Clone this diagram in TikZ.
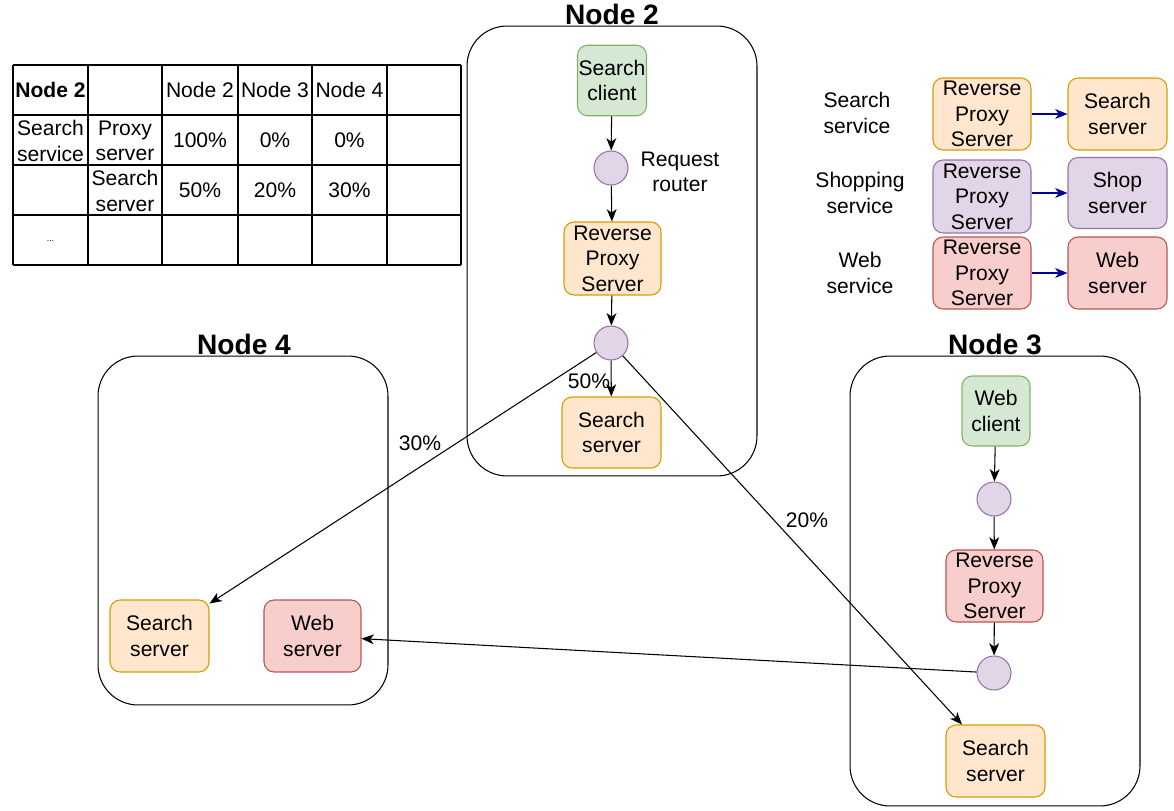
\documentclass[tikz,border=0pt]{standalone}
\usepackage{fontspec}
\setmainfont{Liberation Sans}
\usetikzlibrary{arrows.meta}
\definecolor{orFill}{HTML}{FFE6CC}
\definecolor{orLine}{HTML}{D79B00}
\definecolor{grFill}{HTML}{D5E8D4}
\definecolor{grLine}{HTML}{82B366}
\definecolor{puFill}{HTML}{E1D5E7}
\definecolor{puLine}{HTML}{9673A6}
\definecolor{reFill}{HTML}{F8CECC}
\definecolor{reLine}{HTML}{B85450}
\definecolor{legBlue}{RGB}{0,0,153}

\begin{document}
\begin{tikzpicture}[
x=0.02cm, y=-0.02cm,
font=\fontsize{12}{14.5}\selectfont,
line width=0.6pt,
box/.style = {
	draw,
	rounded corners=0.2cm,
	align=center,
	inner sep=0pt,
	minimum width=1.96cm,
	minimum height=1.44cm
	},
orBox/.style = {
	box,
	fill=orFill,
	draw=orLine
	},
grBox/.style = {
	box,
	fill=grFill,
	draw=grLine,
	minimum width=1.38cm,
	minimum height=1.41cm
	},
puBox/.style = {
	box,
	fill=puFill,
	draw=puLine
	},
reBox/.style = {
	box,
	fill=reFill,
	draw=reLine
	},
hub/.style = {
	circle,
	draw=puLine,
	fill=puFill,
	minimum size=0.68cm,
	inner sep=0pt
	},
cont/.style = {
	draw,
	rounded corners=0.8cm,
	minimum width=5.8cm,
	inner sep=0pt
	},
title/.style = {
	font=\fontsize{16}{19}\selectfont\bfseries
	},
lbl/.style = {
	align=center
	},
flow/.style = {
	-{Stealth[length=7pt,width=5.6pt,inset=2pt]}
	},
legArr/.style = {
	-{Stealth[length=7pt,width=5.6pt,inset=2pt]},
	legBlue
	}
]
\useasboundingbox (0,0) rectangle (1174,811);

% TABLE
\foreach \x in {13,88,162,238,312,387,461} \draw (\x,65) -- (\x,265);
\foreach \y in {65,115,165,215,265} \draw (13,\y) -- (461,\y);
\node [lbl, font=\fontsize{12}{14.5}\selectfont\bfseries] (tabA1) at (50.5,90) {Node 2};
\node [lbl] (tabA3) at (200,90) {Node 2};
\node [lbl] (tabA4) at (275,90) {Node 3};
\node [lbl] (tabA5) at (349.5,90) {Node 4};
\node [lbl] (tabB1) at (50.5,141) {Search\\service};
\node [lbl] (tabB2) at (125,141) {Proxy\\server};
\node [lbl] (tabB3) at (200,140) {100\%};
\node [lbl] (tabB4) at (275,140) {0\%};
\node [lbl] (tabB5) at (349.5,140) {0\%};
\node [lbl] (tabC2) at (125,191) {Search\\server};
\node [lbl] (tabC3) at (200,190) {50\%};
\node [lbl] (tabC4) at (275,190) {20\%};
\node [lbl] (tabC5) at (349.5,190) {30\%};
\node [lbl, font=\tiny] (tabD1) at (50.5,241) {...};

% NODE 2
\node [cont, minimum height=9cm] (cont2) at (612,251) {};
\node [title] (title2) at (612,14) {Node 2};
\node [grBox] (cli2) at (612,80.5) {Search\\client};
\node [hub] (hubA) at (611,168) {};
\node [lbl] (router) at (680,172) {Request\\router};
\node [orBox, minimum width=1.94cm, minimum height=1.46cm] (rps2) at (612.5,258.5) {Reverse\\Proxy\\Server};
\node [hub] (hubB) at (611,343) {};
\node [orBox, minimum width=1.98cm, minimum height=1.42cm] (srch2) at (611.5,432.5) {Search\\server};

% NODE 4
\node [cont, minimum height=6.98cm] (cont4) at (243,530.5) {};
\node [title] (title4) at (244,344) {Node 4};
\node [orBox, minimum width=1.98cm] (srch4) at (159.5,636) {Search\\server};
\node [reBox, minimum width=1.94cm] (web4) at (312.5,636) {Web\\server};

% NODE 3
\node [cont, minimum height=9cm] (cont3) at (995,581) {};
\node [title] (title3) at (995,344) {Node 3};
\node [grBox, minimum width=1.36cm, minimum height=1.4cm] (cli3) at (996,411) {Web\\client};
\node [hub] (hubC) at (994,499) {};
\node [reBox, minimum width=1.94cm] (rps3) at (994.5,586) {Reverse\\Proxy\\Server};
\node [hub] (hubD) at (994,673) {};
\node [orBox, minimum width=1.98cm] (srch3) at (995.5,761) {Search\\server};

% LEGEND
\node [lbl] (legA) at (857,113) {Search\\service};
\node [orBox] (legRpsA) at (982,114) {Reverse\\Proxy\\Server};
\node [orBox, minimum width=1.98cm] (legSrvA) at (1117.5,114) {Search\\server};
\node [lbl] (legB) at (860,193) {Shopping\\service};
\node [puBox, minimum height=1.46cm] (legRpsB) at (982,196.5) {Reverse\\Proxy\\Server};
\node [puBox, minimum width=1.98cm, minimum height=1.42cm] (legSrvB) at (1117.5,193) {Shop\\server};
\node [lbl] (legC) at (860,273) {Web\\service};
\node [reBox] (legRpsC) at (982,273) {Reverse\\Proxy\\Server};
\node [reBox, minimum width=1.98cm] (legSrvC) at (1117.5,273) {Web\\server};

% PERCENT LABELS
\node (pctA) at (589,381) {50\%};
\node (pctB) at (420,443) {30\%};
\node (pctC) at (807,520) {20\%};

% PATHS
\path [flow] (cli2) edge (hubA) (hubA) edge (rps2) (rps2) edge (hubB) (hubB) edge (srch2);
\path [flow] (hubB) edge (srch4) (hubB) edge (srch3);
\path [flow] (cli3) edge (hubC) (hubC) edge (rps3) (rps3) edge (hubD);
\draw [flow] (hubD) -- (web4);
\path [legArr] (legRpsA) edge (legSrvA) (legRpsB.east |- legSrvB) edge (legSrvB) (legRpsC) edge (legSrvC);
\end{tikzpicture}
\end{document}
